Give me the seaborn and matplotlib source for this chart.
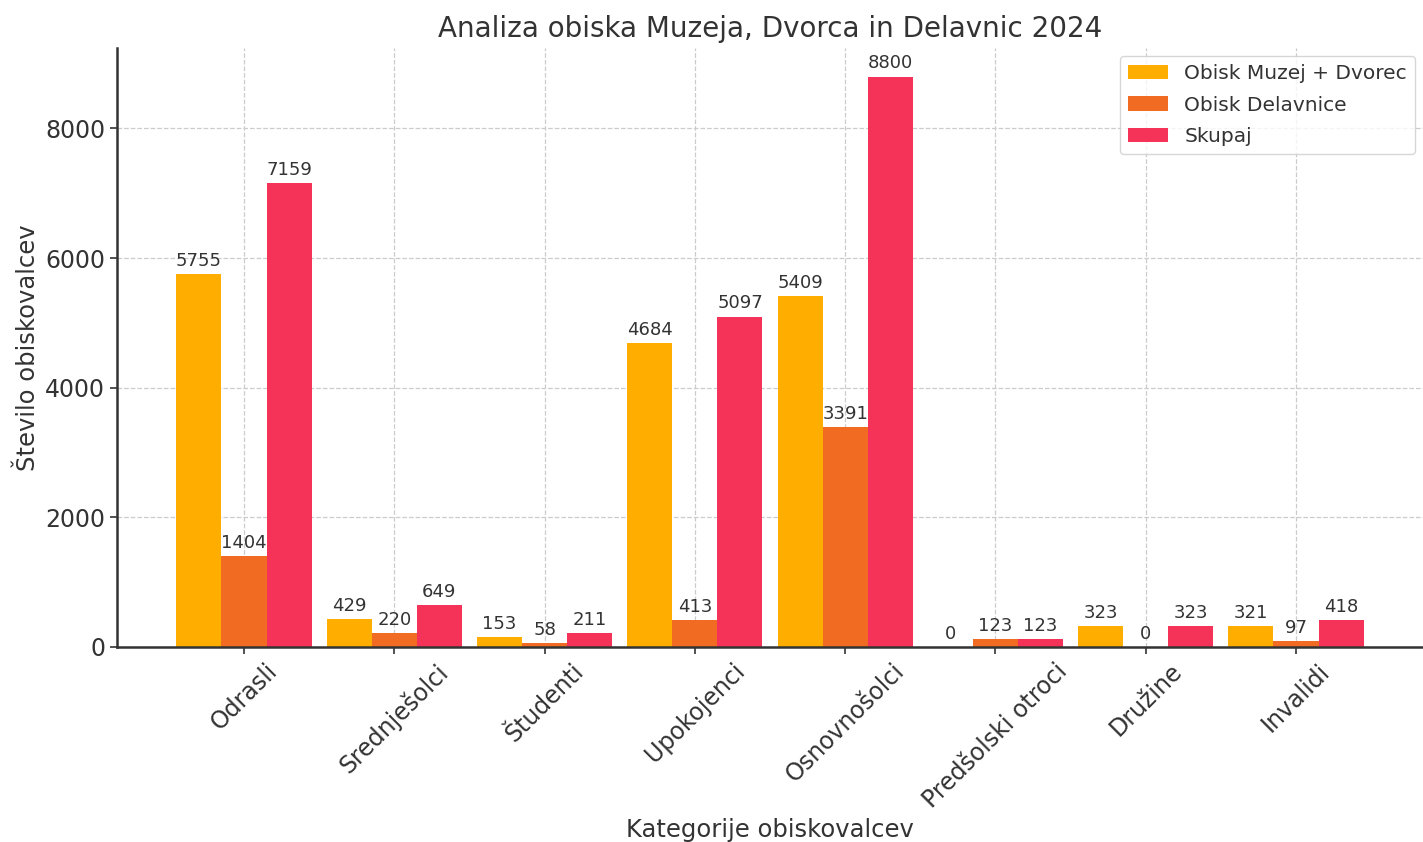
import pandas as pd
import matplotlib.pyplot as plt
import seaborn as sns

# data
kategorije = ['Odrasli', 'Srednješolci', 'Študenti', 'Upokojenci',
              'Osnovnošolci', 'Predšolski otroci', 'Družine', 'Invalidi']
muzej_dvorec = [5755, 429, 153, 4684, 5409, 0, 323, 321]
delavnice = [1404, 220, 58, 413, 3391, 123, 0, 97]
skupaj = [7159, 649, 211, 5097, 8800, 123, 323, 418]
serije = ['Obisk Muzej + Dvorec', 'Obisk Delavnice', 'Skupaj']
barve = ['#FFAE00', '#F26B22', '#F53257']

df = pd.DataFrame({
    'Kategorija': kategorije * 3,
    'Serija': [serije[0]] * 8 + [serije[1]] * 8 + [serije[2]] * 8,
    'Obisk': muzej_dvorec + delavnice + skupaj,
})

sns.set_style('white')
plt.rcParams['font.family'] = ['DejaVu Sans']
plt.rcParams['text.color'] = '#333333'
plt.rcParams['axes.labelcolor'] = '#333333'
plt.rcParams['xtick.color'] = '#333333'
plt.rcParams['ytick.color'] = '#333333'

fig = plt.figure(figsize=(14.23, 8.42), dpi=100)
ax = fig.add_axes([117 / 1423, 1 - 647 / 842, 1 - 117 / 1423, (647 - 48) / 842])

sns.barplot(data=df, x='Kategorija', y='Obisk', hue='Serija', hue_order=serije,
            palette=barve, width=0.9, gap=0, saturation=1, linewidth=0, ax=ax)

for c in ax.containers:
    ax.bar_label(c, fmt='%d', padding=3, fontsize=13, color='#333333')

ax.set_xlim(-0.845, 7.845)
ax.set_ylim(0, 9240)
ax.grid(True, linestyle='--', color='#cccccc', linewidth=0.9)
ax.set_axisbelow(True)
for s in ['top', 'right']:
    ax.spines[s].set_visible(False)
for s in ['left', 'bottom']:
    ax.spines[s].set_color('#333333')
    ax.spines[s].set_linewidth(1.8)
ax.tick_params(axis='both', which='both', direction='out', length=5, width=1.2,
               labelsize=17, bottom=True, left=True)
plt.setp(ax.get_xticklabels(), rotation=45, ha='center')

ax.set_title('Analiza obiska Muzeja, Dvorca in Delavnic 2024', fontsize=20, pad=8)
ax.set_xlabel('Kategorije obiskovalcev', fontsize=17.5)
ax.set_ylabel('Število obiskovalcev', fontsize=17.5)

leg = ax.legend(loc='upper right', fontsize=14.5, frameon=True, title=None,
                handlelength=2, borderaxespad=0.4, labelspacing=0.62)
leg.get_frame().set_edgecolor('#cccccc')

fig.savefig('out.png', dpi=100)
